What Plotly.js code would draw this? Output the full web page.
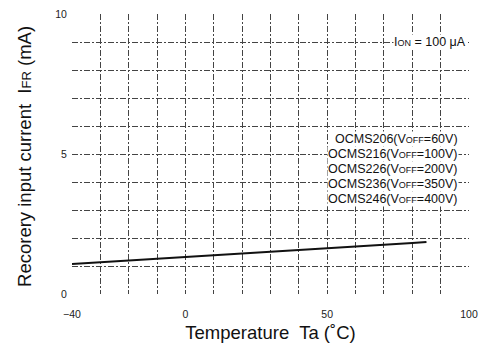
<!DOCTYPE html>
<html><head><meta charset="utf-8">
<script src="https://cdn.plot.ly/plotly-3.0.1.min.js"></script>
<style>html,body{margin:0;padding:0;background:#fff}#c{width:486px;height:353px}</style>
</head><body><div id="c"></div>
<script>
const temps = [-40, -20, 0, 20, 40, 60, 80, 85];
const ifr = [1.07, 1.2, 1.33, 1.45, 1.57, 1.7, 1.82, 1.86];
const xTickVals = [-40, -30, -20, -10, 0, 10, 20, 30, 40, 50, 60, 70, 80, 90, 100];
const xTickText = ['\u221240', '', '', '', '0', '', '', '', '', '50', '', '', '', '', '100'];
const yTickVals = [0, 1, 2, 3, 4, 5, 6, 7, 8, 9, 10];
const yTickText = ['0', '', '', '', '', '5', '', '', '', '', '10'];
const devices = ['OCMS206', 'OCMS216', 'OCMS226', 'OCMS236', 'OCMS246'];
const voffs = ['60V', '100V', '200V', '350V', '400V'];

const FAM = 'Liberation Sans, Arial, sans-serif';
const sub = s => '<span style="font-size:9px">' + s + '</span>';
const annotations = devices.map((d, i) => ({
  xref: 'paper', yref: 'paper', x: 0.975, y: 0.555 - i * 0.054,
  xanchor: 'right', yanchor: 'middle', showarrow: false,
  bgcolor: '#fff', borderpad: 0,
  text: d + '(V' + sub('OFF') + '=' + voffs[i] + ')',
  font: {family: FAM, size: 12.5, color: '#111'}
}));
annotations.push({
  xref: 'paper', yref: 'paper', x: 0.995, y: 0.9, xanchor: 'right', yanchor: 'middle',
  showarrow: false, bgcolor: '#fff', borderpad: 0,
  text: 'I' + sub('ON') + ' = 100 \u03bcA',
  font: {family: FAM, size: 12.5, color: '#111'}
});
annotations.push({
  xref: 'paper', yref: 'paper', x: -0.118, y: 0.49, xanchor: 'center', yanchor: 'middle',
  showarrow: false, textangle: -90,
  text: 'Recorery input current  I<span style="font-size:13px">FR</span> (mA)',
  font: {family: FAM, size: 18.5, color: '#111'}
});

const data = [{
  x: temps, y: ifr, type: 'scatter', mode: 'lines',
  line: {color: '#111', width: 2}, hoverinfo: 'skip'
}];

const axisFont = {family: FAM, size: 10.5, color: '#222'};
const grid = {showgrid: true, gridcolor: '#444', gridwidth: 1, griddash: '6px,2px,2px,2px',
  zeroline: false, showline: false, ticks: 'outside', tickcolor: 'rgba(0,0,0,0)', tickfont: axisFont};
const layout = {
  width: 486, height: 353,
  margin: {l: 72, r: 17, t: 14, b: 59},
  paper_bgcolor: '#fff', plot_bgcolor: '#fff',
  showlegend: false,
  xaxis: Object.assign({}, grid, {
    range: [-40, 100], tickvals: xTickVals, ticktext: xTickText, ticklen: 10,
    title: {text: 'Temperature  Ta (\u02daC)', font: {family: FAM, size: 18.5, color: '#111'}, standoff: 7}
  }),
  yaxis: Object.assign({}, grid, {
    range: [0, 10], tickvals: yTickVals, ticktext: yTickText, ticklen: 2
  }),
  annotations: annotations
};
Plotly.newPlot('c', data, layout, {staticPlot: true, displayModeBar: false});
</script></body></html>
